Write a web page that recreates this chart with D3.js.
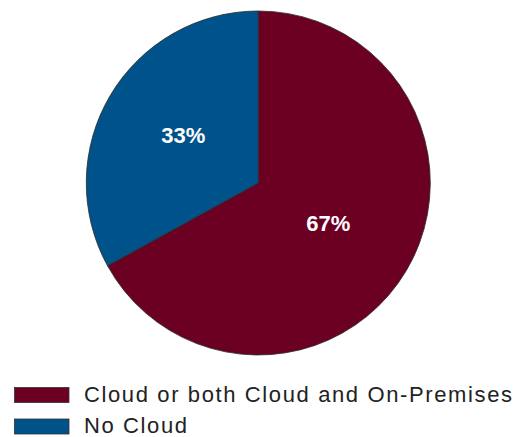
<!DOCTYPE html>
<html><head><meta charset="utf-8">
<script src="https://cdn.jsdelivr.net/npm/d3@7"></script>
<style>body{margin:0;background:#fff}svg{display:block}</style>
</head><body>
<script>
const categories = ["Cloud or both Cloud and On-Premises", "No Cloud"];
const values = [67, 33];
const labels = ["67%", "33%"];
const colors = ["#6b0023", "#00538a"];

const W = 518, H = 437;
const svg = d3.select("body").append("svg").attr("width", W).attr("height", H);
const cx = 258.3, cy = 183, R = 172;
const g = svg.append("g").attr("transform", `translate(${cx},${cy})`);
const pie = d3.pie().sort(null).value(d => d)(values);
const arc = d3.arc().innerRadius(0).outerRadius(R);
g.selectAll("path").data(pie).join("path")
  .attr("d", arc).attr("fill", (d,i) => colors[i])
  .attr("stroke", "#2a2a2a").attr("stroke-width", 0.8);
const lab = d3.arc().innerRadius(86).outerRadius(86);
g.selectAll("text").data(pie).join("text")
  .attr("transform", (d,i) => {
    const c = lab.centroid(d);
    return `translate(${c[0] + (i === 0 ? -4 : -1)},${c[1] - 4})`;
  })
  .attr("text-anchor", "middle").attr("dy", "0.36em")
  .attr("font-family", "Liberation Sans, Arial, sans-serif")
  .attr("font-weight", "bold").attr("font-size", 22).attr("fill", "#fff")
  .text((d,i) => labels[i]);

const leg = svg.append("g");
const texts = [];
categories.forEach((c, i) => {
  const y = 387.5 + i * 31.5;
  leg.append("rect").attr("x", 14.5).attr("y", y).attr("width", 54.5).attr("height", 15)
    .attr("fill", colors[i]).attr("stroke", "#333").attr("stroke-width", 0.8);
  texts.push(leg.append("text").attr("x", 84).attr("y", y + 14)
    .attr("font-family", "Liberation Sans, Arial, sans-serif")
    .attr("font-size", 22).attr("fill", "#222").text(c));
});
// widen letter spacing so the first legend entry spans like the reference
const w0 = texts[0].node().getComputedTextLength();
const ls = Math.max(0, (428 - w0) / (categories[0].length - 1));
texts.forEach(t => t.attr("letter-spacing", ls));
</script>
</body></html>
